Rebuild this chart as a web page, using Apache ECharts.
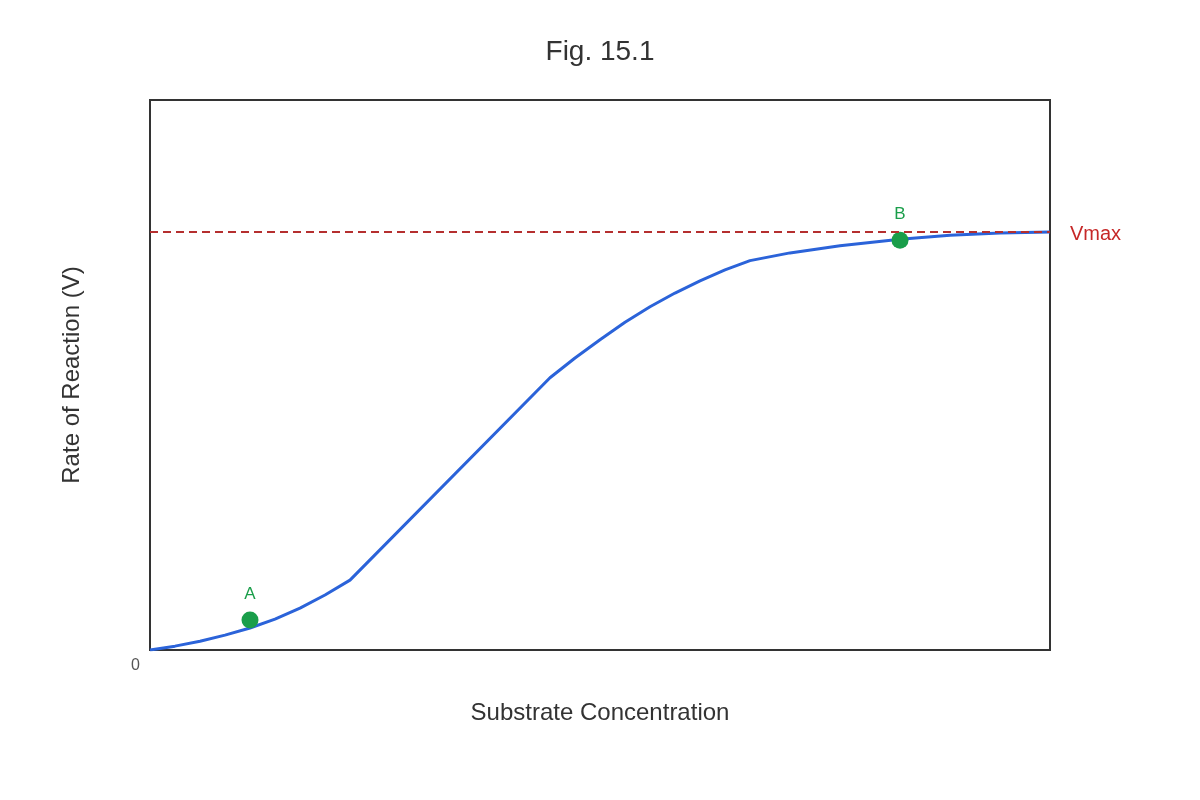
<!DOCTYPE html>
<html>
<head>
<meta charset="utf-8">
<script src="https://cdn.jsdelivr.net/npm/echarts@6/dist/echarts.min.js"></script>
<style>
  html, body { margin: 0; padding: 0; background: #fff; }
  #main { width: 1200px; height: 800px; }
</style>
</head>
<body>
<div id="main"></div>
<script>
// curve (substrate concentration vs rate)
var concentration = [0, 0.25, 0.5, 0.75, 1, 1.25, 1.5, 1.75, 2, 4, 4.25, 4.5, 4.75, 5, 5.25, 5.5, 5.75, 6, 6.4, 6.9, 7.5, 8, 8.5, 9];
var rate = [0, 0.7, 1.6, 2.7, 4.0, 5.6, 7.6, 10.0, 12.7, 49.5, 53.1, 56.4, 59.6, 62.4, 64.9, 67.1, 69.1, 70.8, 72.2, 73.5, 74.7, 75.4, 75.8, 76.0];
var vmax = 76;
// labelled points
var pointNames = ['A', 'B'];
var pointX = [1, 7.5];
var pointY = [5.45, 74.5];

var myChart = echarts.init(document.getElementById('main'));

var option = {
  backgroundColor: '#fff',
  textStyle: { fontFamily: 'Liberation Sans, Arial, sans-serif' },
  title: {
    text: 'Fig. 15.1',
    left: 'center',
    top: 33,
    textStyle: { fontSize: 28, fontWeight: 'normal', color: '#333' }
  },
  grid: {
    left: 150, right: 150, top: 100, bottom: 150,
    show: true,
    borderColor: '#333',
    borderWidth: 2,
    backgroundColor: 'transparent'
  },
  xAxis: {
    type: 'value',
    min: 0,
    max: 9,
    name: 'Substrate Concentration',
    nameLocation: 'middle',
    nameGap: 51,
    nameTextStyle: { fontSize: 24, color: '#333' },
    axisLine: { show: false },
    axisTick: { show: false },
    axisLabel: { show: false },
    splitLine: { show: false }
  },
  yAxis: {
    type: 'value',
    min: 0,
    max: 100,
    name: 'Rate of Reaction (V)',
    nameLocation: 'middle',
    nameGap: 66,
    nameTextStyle: { fontSize: 24, color: '#333' },
    axisLine: { show: false },
    axisTick: { show: false },
    axisLabel: { show: false },
    splitLine: { show: false }
  },
  graphic: [{
    type: 'text',
    left: 131,
    top: 658,
    style: { text: '0', fontSize: 16, fill: '#555', fontFamily: 'Liberation Sans, Arial, sans-serif' }
  }],
  series: [
    {
      type: 'line',
      data: concentration.map(function (x, i) { return [x, rate[i]]; }),
      smooth: false,
      showSymbol: false,
      lineStyle: { color: '#2b63d9', width: 3 },
      z: 3,
      markLine: {
        silent: true,
        symbol: 'none',
        lineStyle: { color: '#b52f2f', type: [8, 5], width: 2 },
        label: {
          show: true,
          position: 'end',
          formatter: 'Vmax',
          color: '#c62828',
          fontSize: 20,
          distance: 20,
          offset: [0, 2]
        },
        data: [{ yAxis: vmax }]
      }
    },
    {
      type: 'scatter',
      data: pointNames.map(function (n, i) { return { name: n, value: [pointX[i], pointY[i]] }; }),
      symbolSize: 17,
      itemStyle: { color: '#1a9e4a', opacity: 1 },
      z: 4,
      label: {
        show: true,
        position: 'top',
        distance: 9,
        formatter: '{b}',
        color: '#1a9e4a',
        fontSize: 17
      }
    }
  ]
};

myChart.setOption(option);
</script>
</body>
</html>
